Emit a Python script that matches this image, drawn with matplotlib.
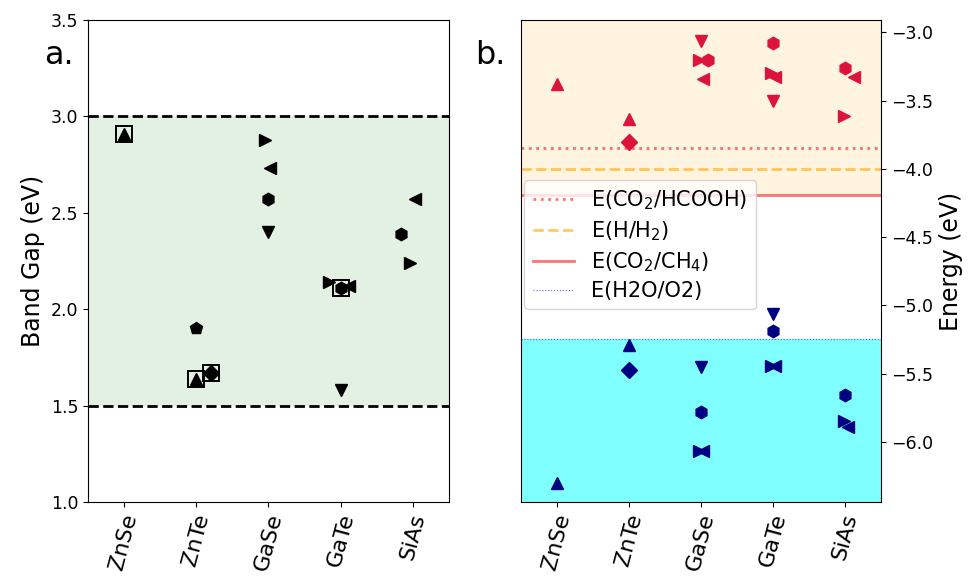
import matplotlib.pyplot as plt
import numpy as np

nan = np.nan
materials = ['ZnSe', 'ZnTe', 'GaSe', 'GaTe', 'SiAs']

# band gaps (eV), one list per method / marker
gap_up = [2.91, 1.64, nan, nan, nan]
gap_diamond = [nan, 1.67, nan, nan, nan]
gap_pent = [nan, 1.90, nan, nan, nan]
gap_hex = [nan, nan, 2.57, 2.11, 2.39]
gap_right = [nan, nan, 2.88, 2.14, 2.24]
gap_left = [nan, nan, 2.73, 2.12, 2.57]
gap_down = [nan, nan, 2.40, 1.58, nan]
# which points get a box (reference values)
boxed_up = [2.91, 1.64, nan, nan, nan]
boxed_diamond = [nan, 1.67, nan, nan, nan]
boxed_hex = [nan, nan, nan, 2.11, nan]

# band edges (eV)
cbm_up = [-3.38, -3.635, nan, nan, nan]
cbm_diamond = [nan, -3.80, nan, nan, nan]
cbm_hex = [nan, nan, -3.20, -3.08, -3.26]
cbm_right = [nan, nan, -3.20, -3.30, -3.61]
cbm_left = [nan, nan, -3.34, -3.325, -3.325]
cbm_down = [nan, nan, -3.065, -3.50, nan]

vbm_up = [-6.30, -5.29, nan, nan, nan]
vbm_diamond = [nan, -5.47, nan, nan, nan]
vbm_hex = [nan, nan, -5.78, -5.19, -5.66]
vbm_right = [nan, nan, -6.07, -5.445, -5.85]
vbm_left = [nan, nan, -6.07, -5.445, -5.89]
vbm_down = [nan, nan, -5.45, -5.065, nan]

# redox potentials (eV)
e_hcooh = -3.845
e_h2 = -4.0
e_ch4 = -4.19
e_o2 = -5.25

x = np.arange(len(materials))

# small horizontal shifts so markers don't sit on each other
sh_a = {'^': [0, 0, 0, 0, 0], 'D': [0, 0.2, 0, 0, 0], 'p': [0, 0, 0, 0, 0],
        'h': [0, 0, 0, 0, -0.16], '>': [0, 0, -0.05, -0.16, -0.04],
        '<': [0, 0, 0.02, 0.12, 0.03], 'v': [0, 0, 0, 0, 0]}
sh_cb = {'^': [0, 0, 0, 0, 0], 'D': [0, 0, 0, 0, 0], 'h': [0, 0, 0.1, 0, 0],
         '>': [0, 0, -0.03, -0.03, -0.01], '<': [0, 0, 0.03, 0.03, 0.13],
         'v': [0, 0, 0, 0, 0]}
sh_vb = {'^': [0, 0, 0, 0, 0], 'D': [0, 0, 0, 0, 0], 'h': [0, 0, 0, 0, 0],
         '>': [0, 0, -0.03, -0.03, -0.01], '<': [0, 0, 0.03, 0.03, 0.04],
         'v': [0, 0, 0, 0, 0]}
ms = {'^': 8, 'D': 8, 'p': 9, 'h': 9, '>': 9, '<': 9, 'v': 9}

fig = plt.figure(figsize=(9.7, 5.81), dpi=100)
ax1 = fig.add_axes([0.0907, 0.136, 0.372, 0.8296])
ax2 = fig.add_axes([0.537, 0.136, 0.3714, 0.8296])

# ---- a. band gaps
ax1.axhspan(1.5, 3.0, color='green', alpha=0.11, lw=0)
ax1.axhline(1.5, color='k', ls='--', lw=2)
ax1.axhline(3.0, color='k', ls='--', lw=2)
for m, vals in [('^', gap_up), ('D', gap_diamond), ('p', gap_pent), ('h', gap_hex),
                ('>', gap_right), ('<', gap_left), ('v', gap_down)]:
    ax1.plot(x + np.array(sh_a[m]), vals, m, color='k', ms=ms[m], ls='none')
for m, vals in [('^', boxed_up), ('D', boxed_diamond), ('h', boxed_hex)]:
    ax1.plot(x + np.array(sh_a[m]), vals, 's', mfc='none', mec='k', ms=12, mew=1.4, ls='none')
ax1.set_xlim(-0.5, 4.5)
ax1.set_ylim(1.0, 3.5)
ax1.set_yticks([1.0, 1.5, 2.0, 2.5, 3.0, 3.5])
ax1.set_xticks(x)
ax1.set_xticklabels(materials, rotation=75, fontsize=16)
ax1.tick_params(axis='y', labelsize=12.5)
ax1.set_ylabel('Band Gap (eV)', fontsize=17)

# ---- b. band edges
ylo, yhi = -6.44, -2.91
ax2.axhspan(e_ch4, yhi, color='orange', alpha=0.12, lw=0)
ax2.axhspan(ylo, e_o2, color='cyan', alpha=0.5, lw=0)
ax2.axhline(e_hcooh, color='red', alpha=0.55, ls=':', lw=2, label='E(CO$_2$/HCOOH)')
ax2.axhline(e_h2, color='orange', alpha=0.6, ls='--', lw=2, label='E(H/H$_2$)')
ax2.axhline(e_ch4, color='red', alpha=0.55, ls='-', lw=2, label='E(CO$_2$/CH$_4$)')
ax2.axhline(e_o2, color='blue', alpha=0.6, ls=':', lw=0.8, label='E(H2O/O2)')
for m, cb, vb in [('^', cbm_up, vbm_up), ('D', cbm_diamond, vbm_diamond), ('h', cbm_hex, vbm_hex),
                  ('>', cbm_right, vbm_right), ('<', cbm_left, vbm_left), ('v', cbm_down, vbm_down)]:
    ax2.plot(x + np.array(sh_cb[m]), cb, m, color='crimson', ms=ms[m], ls='none')
    ax2.plot(x + np.array(sh_vb[m]), vb, m, color='navy', ms=ms[m], ls='none')
ax2.set_xlim(-0.5, 4.5)
ax2.set_ylim(ylo, yhi)
ax2.set_yticks([-3.0, -3.5, -4.0, -4.5, -5.0, -5.5, -6.0])
ax2.yaxis.tick_right()
ax2.yaxis.set_label_position('right')
ax2.set_xticks(x)
ax2.set_xticklabels(materials, rotation=75, fontsize=16)
ax2.tick_params(axis='y', labelsize=12.5)
ax2.set_ylabel('Energy (eV)', fontsize=17)
ax2.legend(loc='upper left', bbox_to_anchor=(0.01, 0.668), borderaxespad=0,
           fontsize=15, labelspacing=0.35)

fig.text(0.045, 0.89, 'a.', fontsize=23)
fig.text(0.49, 0.89, 'b.', fontsize=23)

fig.savefig('out.png', dpi=100)
